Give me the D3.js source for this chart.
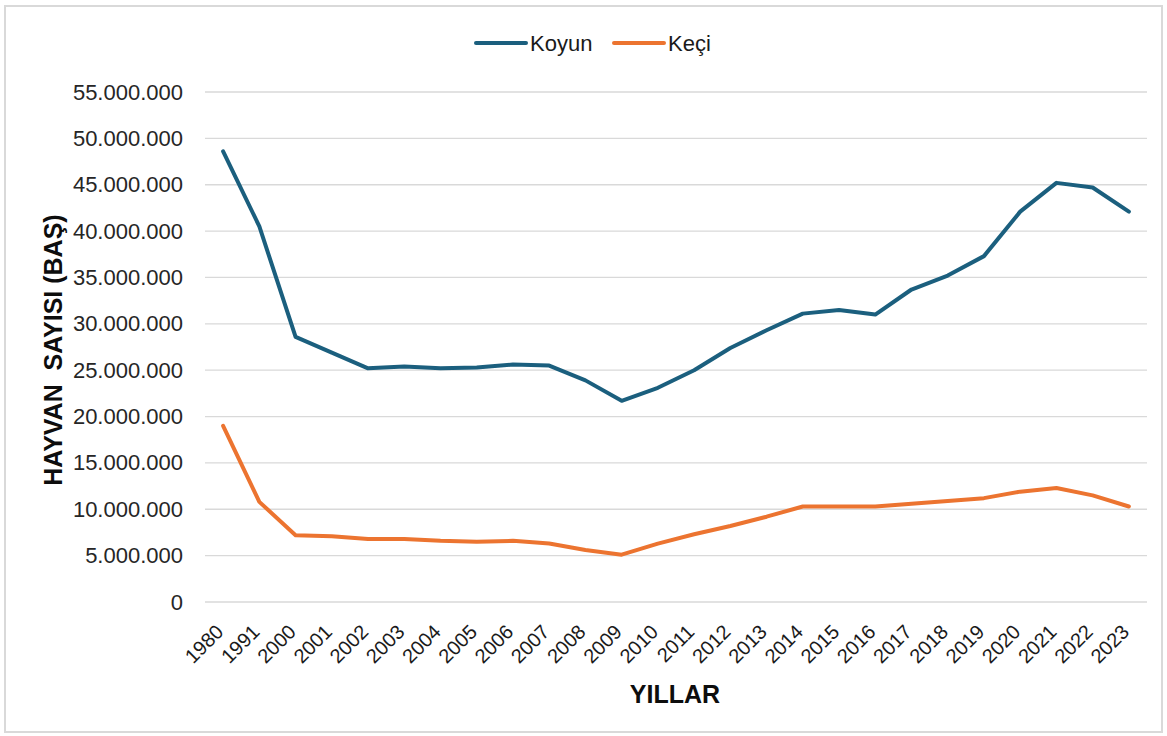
<!DOCTYPE html>
<html>
<head>
<meta charset="utf-8">
<script src="https://cdn.jsdelivr.net/npm/d3@7"></script>
<style>
  body { margin: 0; background: #fff; }
  svg { display: block; font-family: 'Liberation Sans', Arial, sans-serif; }
</style>
</head>
<body>
<div class="chart"></div>
<script>
const WIDTH = 1167;
const HEIGHT = 736;

const years = ['1980', '1991', '2000', '2001', '2002', '2003', '2004', '2005', '2006', '2007',
  '2008', '2009', '2010', '2011', '2012', '2013', '2014', '2015', '2016', '2017',
  '2018', '2019', '2020', '2021', '2022', '2023'];

const koyun = [48600000, 40500000, 28600000, 26900000, 25200000, 25400000, 25200000, 25300000,
  25600000, 25500000, 23900000, 21700000, 23100000, 25000000, 27400000, 29300000,
  31100000, 31500000, 31000000, 33700000, 35200000, 37300000, 42100000, 45200000,
  44700000, 42100000];

const keci = [19000000, 10800000, 7200000, 7100000, 6800000, 6800000, 6600000, 6500000,
  6600000, 6300000, 5600000, 5100000, 6300000, 7300000, 8200000, 9200000,
  10300000, 10300000, 10300000, 10600000, 10900000, 11200000, 11900000, 12300000,
  11500000, 10300000];

const yTicks = [0, 5000000, 10000000, 15000000, 20000000, 25000000, 30000000,
  35000000, 40000000, 45000000, 50000000, 55000000];

const series = [
  { name: 'Koyun', values: koyun, color: '#1b5f7e' },
  { name: 'Keçi', values: keci, color: '#ec7430' },
];

const margin = { left: 205, right: 20, top: 92, bottom: 134 };

const svg = d3.select('.chart').append('svg')
  .attr('width', WIDTH)
  .attr('height', HEIGHT);

// outer frame
svg.append('rect')
  .attr('x', 5).attr('y', 6)
  .attr('width', WIDTH - 10).attr('height', HEIGHT - 10)
  .style('fill', 'none')
  .style('stroke', '#d9d9d9')
  .style('stroke-width', 2);

const x = d3.scalePoint()
  .domain(years)
  .range([margin.left, WIDTH - margin.right])
  .padding(0.5);

const y = d3.scaleLinear()
  .domain([0, 55000000])
  .range([HEIGHT - margin.bottom, margin.top]);

const fmt = (v) => d3.format(',')(v).replace(/,/g, '.');

// grid lines
svg.append('g')
  .selectAll('line')
  .data(yTicks)
  .enter()
  .append('line')
  .attr('x1', margin.left)
  .attr('x2', WIDTH - margin.right)
  .attr('y1', (d) => y(d))
  .attr('y2', (d) => y(d))
  .style('stroke', '#d9d9d9')
  .style('stroke-width', 1.3);

// y axis labels
const yAxis = svg.append('g')
  .attr('transform', `translate(${margin.left - 22},0)`)
  .call(d3.axisLeft(y).tickValues(yTicks).tickFormat(fmt).tickSize(0).tickPadding(0));
yAxis.select('.domain').remove();
yAxis.selectAll('text')
  .style('font-size', '22px')
  .style('font-family', "'Liberation Sans', Arial, sans-serif")
  .style('fill', '#262626');

// x axis labels (rotated)
const xAxis = svg.append('g')
  .attr('transform', `translate(0,${y(0)})`)
  .call(d3.axisBottom(x).tickSize(0));
xAxis.select('.domain').remove();
xAxis.selectAll('text')
  .attr('x', 0)
  .attr('y', 0)
  .attr('dy', '0.71em')
  .attr('transform', 'translate(-9,21) rotate(-45)')
  .style('text-anchor', 'end')
  .style('font-size', '20px')
  .style('font-family', "'Liberation Sans', Arial, sans-serif")
  .style('fill', '#1a1a1a');

// lines
const line = d3.line()
  .x((d, i) => x(years[i]))
  .y((d) => y(d));

svg.append('g')
  .selectAll('path')
  .data(series)
  .enter()
  .append('path')
  .attr('d', (d) => line(d.values))
  .style('fill', 'none')
  .style('stroke', (d) => d.color)
  .style('stroke-width', 4)
  .style('stroke-linejoin', 'round')
  .style('stroke-linecap', 'round');

// legend
const legendX = [476, 614];
const legend = svg.append('g')
  .selectAll('g')
  .data(series)
  .enter()
  .append('g')
  .attr('transform', (d, i) => `translate(${legendX[i]},43)`);
legend.append('line')
  .attr('x1', 0).attr('x2', 50)
  .style('stroke', (d) => d.color)
  .style('stroke-width', 4)
  .style('stroke-linecap', 'round');
legend.append('text')
  .attr('x', 54)
  .attr('dy', '0.36em')
  .text((d) => d.name)
  .style('font-size', '22px')
  .style('fill', '#1a1a1a');

// axis titles
svg.append('text')
  .attr('transform', 'translate(62,350) rotate(-90)')
  .attr('text-anchor', 'middle')
  .attr('xml:space', 'preserve')
  .style('white-space', 'pre')
  .style('font-weight', 'bold')
  .style('font-size', '25px')
  .style('fill', '#0d0d0d')
  .text('HAYVAN  SAYISI (BAŞ)');

svg.append('text')
  .attr('x', 675)
  .attr('y', 703)
  .attr('text-anchor', 'middle')
  .style('font-weight', 'bold')
  .style('font-size', '25px')
  .style('fill', '#0d0d0d')
  .text('YILLAR');
</script>
</body>
</html>
